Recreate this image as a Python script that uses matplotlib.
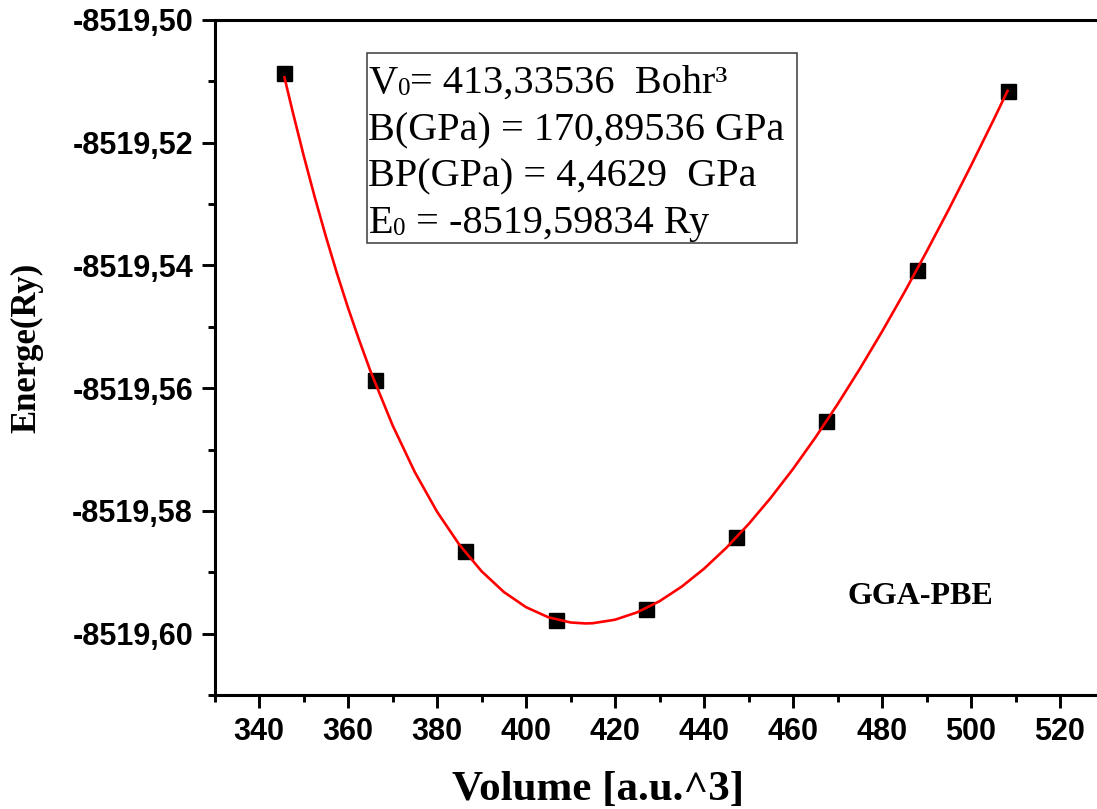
import matplotlib
matplotlib.use('Agg')
import matplotlib.pyplot as plt
from matplotlib.ticker import FixedLocator, FuncFormatter
from matplotlib.patches import Rectangle

# ---- data ----
volume = [345.7, 366.1, 386.3, 406.7, 427.0, 447.2, 467.4, 487.9, 508.2]
energy = [-8519.50869, -8519.55873, -8519.58655, -8519.59772, -8519.59597,
          -8519.58427, -8519.56536, -8519.54067, -8519.51165]

fit_volume = [345.7, 347.5, 350, 352.5, 355, 357.5, 360, 362.5, 365, 370, 375, 380,
              385, 390, 395, 400, 405, 410, 413.34, 415, 420, 425, 430, 435, 440,
              445, 450, 455, 460, 465, 470, 475, 480, 485, 490, 495, 500, 505, 508.2]
fit_energy = [-8519.50935, -8519.51481, -8519.52204, -8519.52885, -8519.53526,
              -8519.54129, -8519.54693, -8519.55218, -8519.55717,
              -8519.56605, -8519.57368, -8519.58014, -8519.58550, -8519.58983,
              -8519.59321, -8519.59569, -8519.59733, -8519.59818, -8519.59834,
              -8519.59830, -8519.59773, -8519.59652, -8519.59471, -8519.59233,
              -8519.58942, -8519.58602, -8519.58216, -8519.57786, -8519.57316,
              -8519.56807, -8519.56263, -8519.55686, -8519.55078, -8519.54441,
              -8519.53776, -8519.53087, -8519.52373, -8519.51638, -8519.51156]

x_major = [340, 360, 380, 400, 420, 440, 460, 480, 500, 520]
x_minor = [330, 350, 370, 390, 410, 430, 450, 470, 490, 510, 530]
y_major = [-8519.60, -8519.58, -8519.56, -8519.54, -8519.52, -8519.50]
y_minor = [-8519.61, -8519.59, -8519.57, -8519.55, -8519.53, -8519.51]

# each line: list of (text, is_subscript)
info_lines = [[("V", False), ("0", True), ("= 413,33536  Bohr\u00b3", False)],
              [("B(GPa) = 170,89536 GPa", False)],
              [("BP(GPa) = 4,4629  GPa", False)],
              [("E", False), ("0", True), (" = -8519,59834 Ry", False)]]

W, H = 1097, 809
fig = plt.figure(figsize=(W / 100, H / 100), dpi=100)
fig.patch.set_facecolor('white')

ax_l, ax_r, ax_t, ax_b = 214.6, 1104.5, 20, 695
ax = fig.add_axes([ax_l / W, 1 - ax_b / H, (ax_r - ax_l) / W, (ax_b - ax_t) / H])

ax.plot(volume, energy, linestyle='none', marker='s', markersize=10.8,
        color='black', mec='black', zorder=3)
ax.plot(fit_volume, fit_energy, color='#ff0000', lw=1.9, zorder=4,
        solid_joinstyle='round')

ax.set_xlim(330, 530)
ax.set_ylim(-8519.61, -8519.50)

ax.xaxis.set_major_locator(FixedLocator(x_major))
ax.xaxis.set_minor_locator(FixedLocator(x_minor))
ax.yaxis.set_major_locator(FixedLocator(y_major))
ax.yaxis.set_minor_locator(FixedLocator(y_minor))
ax.xaxis.set_major_formatter(FuncFormatter(lambda v, p: f"{v:.0f}"))
ax.yaxis.set_major_formatter(FuncFormatter(lambda v, p: f"{v:.2f}".replace('.', ',')))

for s in ax.spines.values():
    s.set_linewidth(2.2)
ax.tick_params(which='major', direction='out', length=9.5, width=2.1, pad=6)
ax.tick_params(which='minor', direction='out', length=5.3, width=2.1)
for lab in ax.get_xticklabels() + ax.get_yticklabels():
    lab.set_fontfamily('Liberation Sans')
    lab.set_fontweight('bold')
    lab.set_fontsize(22)

# info box
bx0, bx1, by0, by1 = 366.7, 796.7, 52.7, 242.7
fig.patches.append(Rectangle((bx0 / W, 1 - by1 / H), (bx1 - bx0) / W, (by1 - by0) / H,
                             transform=fig.transFigure, fill=False,
                             edgecolor='#3a3a3a', lw=1.1))
renderer = fig.canvas.get_renderer()
baselines = [93, 140, 186.7, 232.7]
for parts, yb in zip(info_lines, baselines):
    xp = 368.5
    for txt, sub in parts:
        size = 18 if sub else 29
        dy = 2 if sub else 0
        t = fig.text(xp / W, 1 - (yb + dy) / H, txt, ha='left', va='baseline',
                     fontsize=size, family='Liberation Serif', color='black')
        xp += t.get_window_extent(renderer).width

fig.text(920 / W, 1 - 604.3 / H, "GGA-PBE", ha='center', va='baseline',
         fontsize=23, fontweight='bold', family='Liberation Serif')

fig.text(27 / W, 1 - 348 / H, "Energe(Ry)", ha='center', va='center', rotation=90,
         fontsize=25, fontweight='bold', family='Liberation Serif')
fig.text(598 / W, 1 - 800 / H, "Volume [a.u.^3]", ha='center', va='baseline',
         fontsize=31, fontweight='bold', family='Liberation Serif')

fig.savefig('out.png', dpi=100, facecolor='white')
